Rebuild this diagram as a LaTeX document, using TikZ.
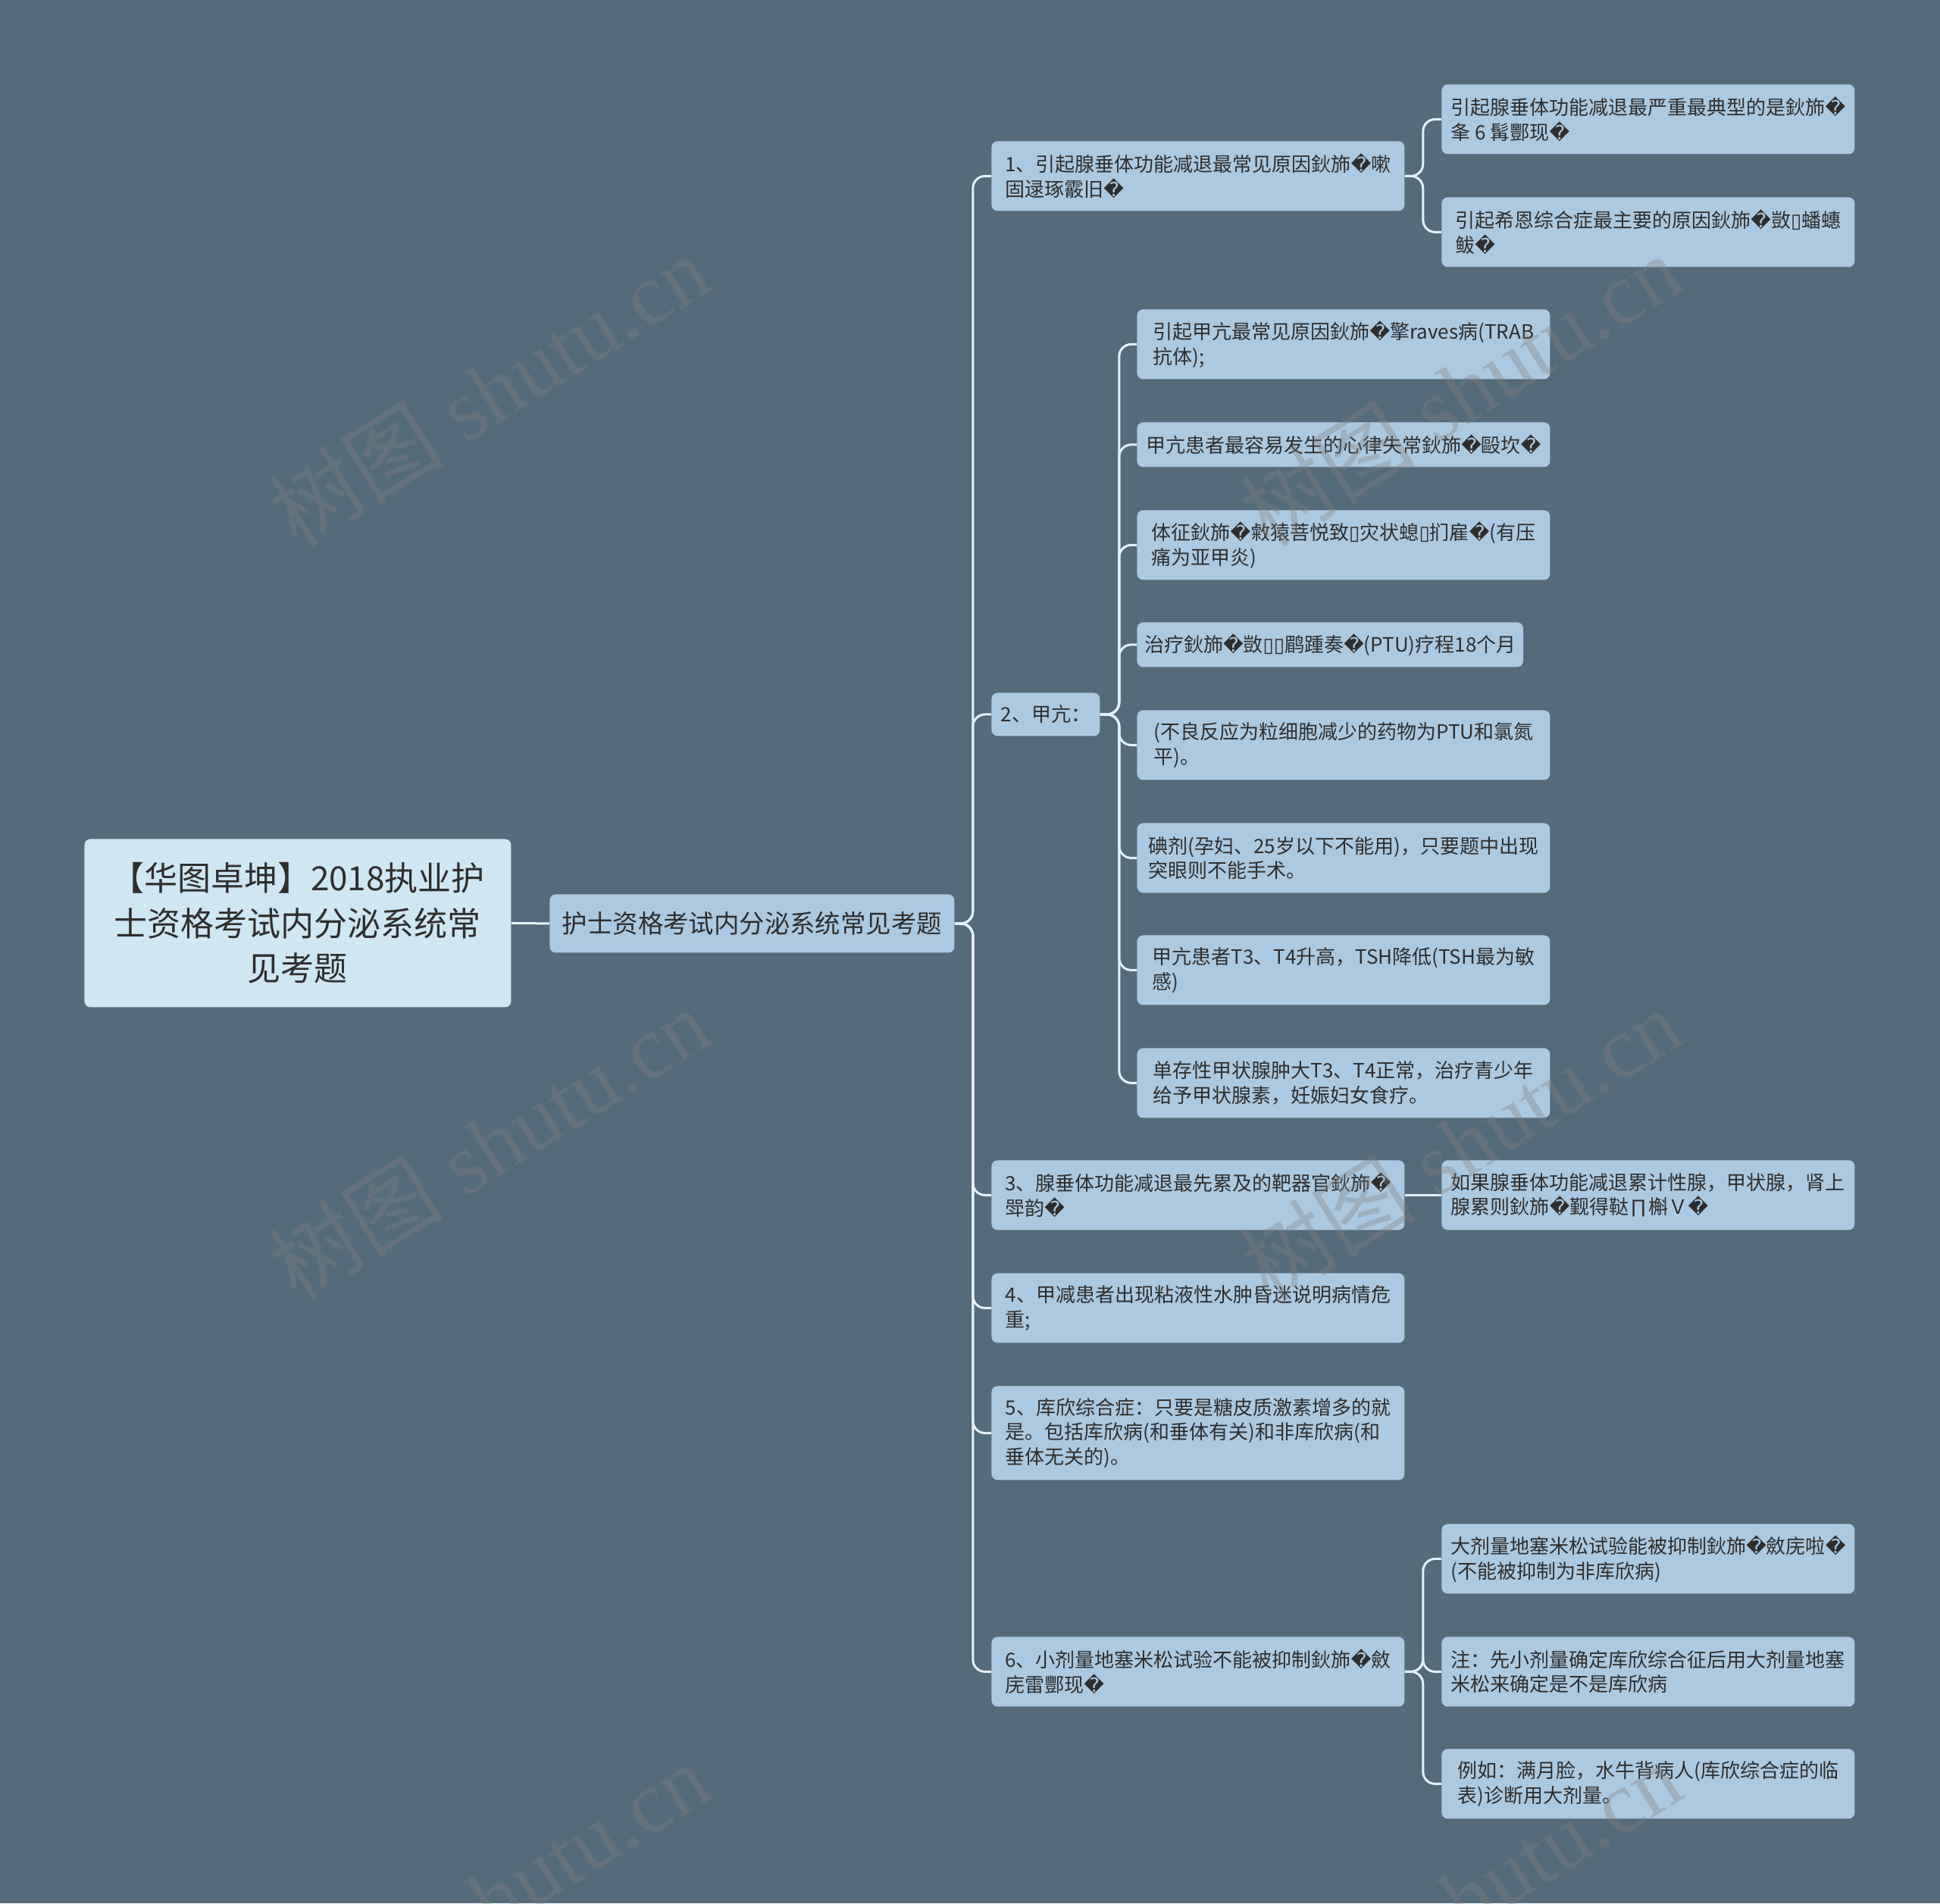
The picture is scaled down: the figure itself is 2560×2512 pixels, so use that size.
\documentclass[tikz,border=0pt]{standalone}
\usepackage{fontspec}
\setmainfont{Noto Sans CJK SC}
\newfontfamily\replfont{DejaVu Sans}
\newfontfamily\wmserif{Liberation Serif}
\usetikzlibrary{positioning}
\definecolor{canvas}{HTML}{546B7B}
\definecolor{boxc}{HTML}{ABC9E1}
\definecolor{rootc}{HTML}{CFE6F3}
\definecolor{linkc}{HTML}{E4F1F9}
\definecolor{txt}{HTML}{2E2E2E}
\definecolor{wmc}{HTML}{7F7F7F}
\newcommand{\badc}{{\replfont\symbol{"FFFD}}}
\newcommand{\tofu}{{\replfont\symbol{"25AF}}}

\begin{document}
\begin{tikzpicture}[
  x=0.5pt, y=-0.5pt,
  base/.style={rounded corners=4pt, text=txt, inner ysep=0pt},
  rootbox/.style={base, fill=rootc, align=center, anchor=north west, minimum width=281.5pt, minimum height=111pt, font=\fontsize{22}{29.8}\selectfont},
  mainbox/.style={base, fill=boxc, align=center, anchor=north west, minimum width=267pt, minimum height=38.5pt, font=\fontsize{16.7}{20}\selectfont},
  topic/.style={base, fill=boxc, align=left, anchor=north west, inner xsep=4.8pt, font=\fontsize{13}{16.3}\selectfont},
  wide/.style={topic, minimum width=272.5pt},
  one/.style={minimum height=29.5pt},
  two/.style={minimum height=46pt},
  three/.style={minimum height=62pt},
  link/.style={draw=linkc, line width=1.5pt, rounded corners=8pt},
  watermark/.style={text=wmc, opacity=0.33, rotate=32, font=\wmserif\fontsize{58}{58}\selectfont}
]
\useasboundingbox (0,0) rectangle (2560,2512);
\fill[canvas] (0,0) rectangle (2560,2512);

% root and main topic
\node[rootbox] (root) at (111,1107) {【华图卓坤】2018执业护\\士资格考试内分泌系统常\\见考题};
\node[mainbox] (main) at (725,1180) {护士资格考试内分泌系统常见考题};

% first level
\node[wide, two] (n1) at (1308,186) {1、引起腺垂体功能减退最常见原因鈥斾\badc 嗽\\固逯琢霰旧\badc};
\node[topic, minimum height=28.5pt, minimum width=71.5pt] (n2) at (1308,914) {2、甲亢：};
\node[wide, two] (n3) at (1308,1531) {3、腺垂体功能减退最先累及的靶器官鈥斾\badc\\斝韵\badc};
\node[wide, two] (n4) at (1308,1680) {4、甲减患者出现粘液性水肿昏迷说明病情危\\重;};
\node[wide, three] (n5) at (1308,1829) {5、库欣综合症：只要是糖皮质激素增多的就\\是。包括库欣病(和垂体有关)和非库欣病(和\\垂体无关的)。};
\node[wide, two] (n6) at (1308,2160) {6、小剂量地塞米松试验不能被抑制鈥斾\badc 斂\\庑雷酆现\badc};

% children of 1
\node[wide, two] (n1a) at (1902,111) {引起腺垂体功能减退最严重最典型的是鈥斾\badc\\夆 6 髯酆现\badc};
\node[wide, two] (n1b) at (1902,260) {引起希恩综合症最主要的原因鈥斾\badc 敳\tofu 蟠蟪\\鲅\badc};

% children of 2
\node[wide, two] (n2a) at (1500,408) {引起甲亢最常见原因鈥斾\badc 擎raves病(TRAB\\抗体);};
\node[wide, one] (n2b) at (1500,557) {甲亢患者最容易发生的心律失常鈥斾\badc 毆坎\badc};
\node[wide, two] (n2c) at (1500,673) {体征鈥斾\badc 敹猿菩悦致\tofu 灾状螅\tofu 扪雇\badc(有压\\痛为亚甲炎)};
\node[topic, one] (n2d) at (1500,821) {治疗鈥斾\badc 敳\tofu\tofu 鹛踵奏\badc(PTU)疗程18个月};
\node[wide, two] (n2e) at (1500,937) {(不良反应为粒细胞减少的药物为PTU和氯氮\\平)。};
\node[wide, two] (n2f) at (1500,1086) {碘剂(孕妇、25岁以下不能用)，只要题中出现\\突眼则不能手术。};
\node[wide, two] (n2g) at (1500,1234) {甲亢患者T3、T4升高，TSH降低(TSH最为敏\\感)};
\node[wide, two] (n2h) at (1500,1383) {单存性甲状腺肿大T3、T4正常，治疗青少年\\给予甲状腺素，妊娠妇女食疗。};

% children of 3 and 6
\node[wide, two] (n3a) at (1902,1531) {如果腺垂体功能减退累计性腺，甲状腺，肾上\\腺累则鈥斾\badc 觐得鞑∏槲Ｖ\badc};
\node[wide, two] (n6a) at (1902,2011) {大剂量地塞米松试验能被抑制鈥斾\badc 斂庑啦\badc\\(不能被抑制为非库欣病)};
\node[wide, two] (n6b) at (1902,2160) {注：先小剂量确定库欣综合征后用大剂量地塞\\米松来确定是不是库欣病};
\node[wide, two] (n6c) at (1902,2308) {例如：满月脸，水牛背病人(库欣综合症的临\\表)诊断用大剂量。};

% connectors
\draw[link] (root.east) -- (main.west);
\foreach \k in {n1,n2,n3,n4,n5,n6}
  \draw[link] (main.east) -- ++(24,0) |- (\k.west);
\foreach \k in {n1a,n1b}
  \draw[link] (n1.east) -- ++(24,0) |- (\k.west);
\foreach \k in {n2a,n2b,n2c,n2d,n2e,n2f,n2g,n2h}
  \draw[link] (n2.east) -- ++(25,0) |- (\k.west);
\draw[link] (n3.east) -- (n3a.west);
\foreach \k in {n6a,n6b,n6c}
  \draw[link] (n6.east) -- ++(24,0) |- (\k.west);

% watermarks
\foreach \wx/\wy in {645/515,1927/515,645/1510,1927/1510,645/2506,1927/2506}
  \node[watermark] at (\wx,\wy) {{\rmfamily 树图} shutu.cn};
\end{tikzpicture}
\end{document}
